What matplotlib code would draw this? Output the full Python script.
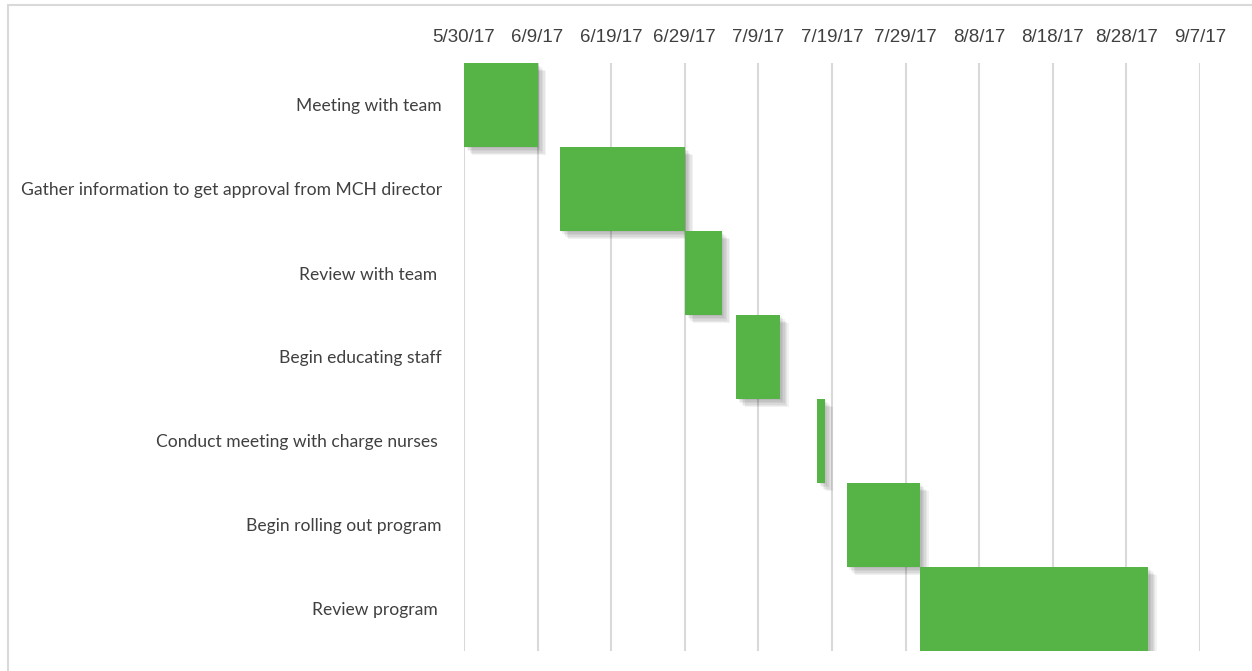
import datetime as dt
import matplotlib
matplotlib.use('Agg')
import matplotlib.pyplot as plt
import matplotlib.dates as mdates
import matplotlib.patheffects as pe
from matplotlib.patches import Rectangle

# task list for the gantt chart
tasks = ['Meeting with team',
         'Gather information to get approval from MCH director',
         'Review with team ',
         'Begin educating staff',
         'Conduct meeting with charge nurses ',
         'Begin rolling out program',
         'Review program ']
start_dates = ['2017-05-30', '2017-06-12', '2017-06-29', '2017-07-06',
               '2017-07-17', '2017-07-21', '2017-07-31']
durations = [10, 17, 5, 6, 1, 10, 31]  # days

axis_start = dt.date(2017, 5, 30)
axis_end = dt.date(2017, 9, 7)
tick_step = 10

starts = [mdates.date2num(dt.date.fromisoformat(s)) for s in start_dates]

fig = plt.figure(figsize=(12.52, 6.71), dpi=100)
ax = fig.add_axes([464/1252, 1 - 651/671, 736/1252, 588/671])

# soft drop shadow like excel
shadow = [pe.SimplePatchShadow(offset=(k, -k), shadow_rgbFace='black', alpha=0.05) for k in range(1, 7)]
bars = ax.barh(range(len(tasks)), durations, left=starts, height=1.0,
               color='#56B447', zorder=3)
for b in bars:
    b.set_path_effects(shadow + [pe.Normal()])

ax.set_xlim(mdates.date2num(axis_start), mdates.date2num(axis_end))
ax.set_ylim(len(tasks) - 0.5, -0.5)

ticks = []
d = axis_start
while d <= axis_end:
    ticks.append(d)
    d = d + dt.timedelta(days=tick_step)
ax.set_xticks([mdates.date2num(t) for t in ticks])
ax.set_xticklabels([f"{t.month}/{t.day}/{t.strftime('%y')}" for t in ticks],
                   fontsize=13.5, color='#404040', family='Liberation Sans')
ax.xaxis.tick_top()
ax.tick_params(axis='x', length=0, pad=12)

ax.set_yticks(range(len(tasks)))
ax.set_yticklabels(tasks, fontsize=12.6, color='#404040', family='Lato')
ax.tick_params(axis='y', length=0, pad=16)

ax.grid(axis='x', color='#d9d9d9', linewidth=1.5, zorder=0)
ax.set_axisbelow(True)
for s in ax.spines.values():
    s.set_visible(False)

# chart area border
fig.patches.append(Rectangle((8/1252, -0.01), 1.1, 1 - 5/671 + 0.01, transform=fig.transFigure,
                             fill=False, edgecolor='#d9d9d9', linewidth=1.5))

plt.savefig('out.png', dpi=100)
